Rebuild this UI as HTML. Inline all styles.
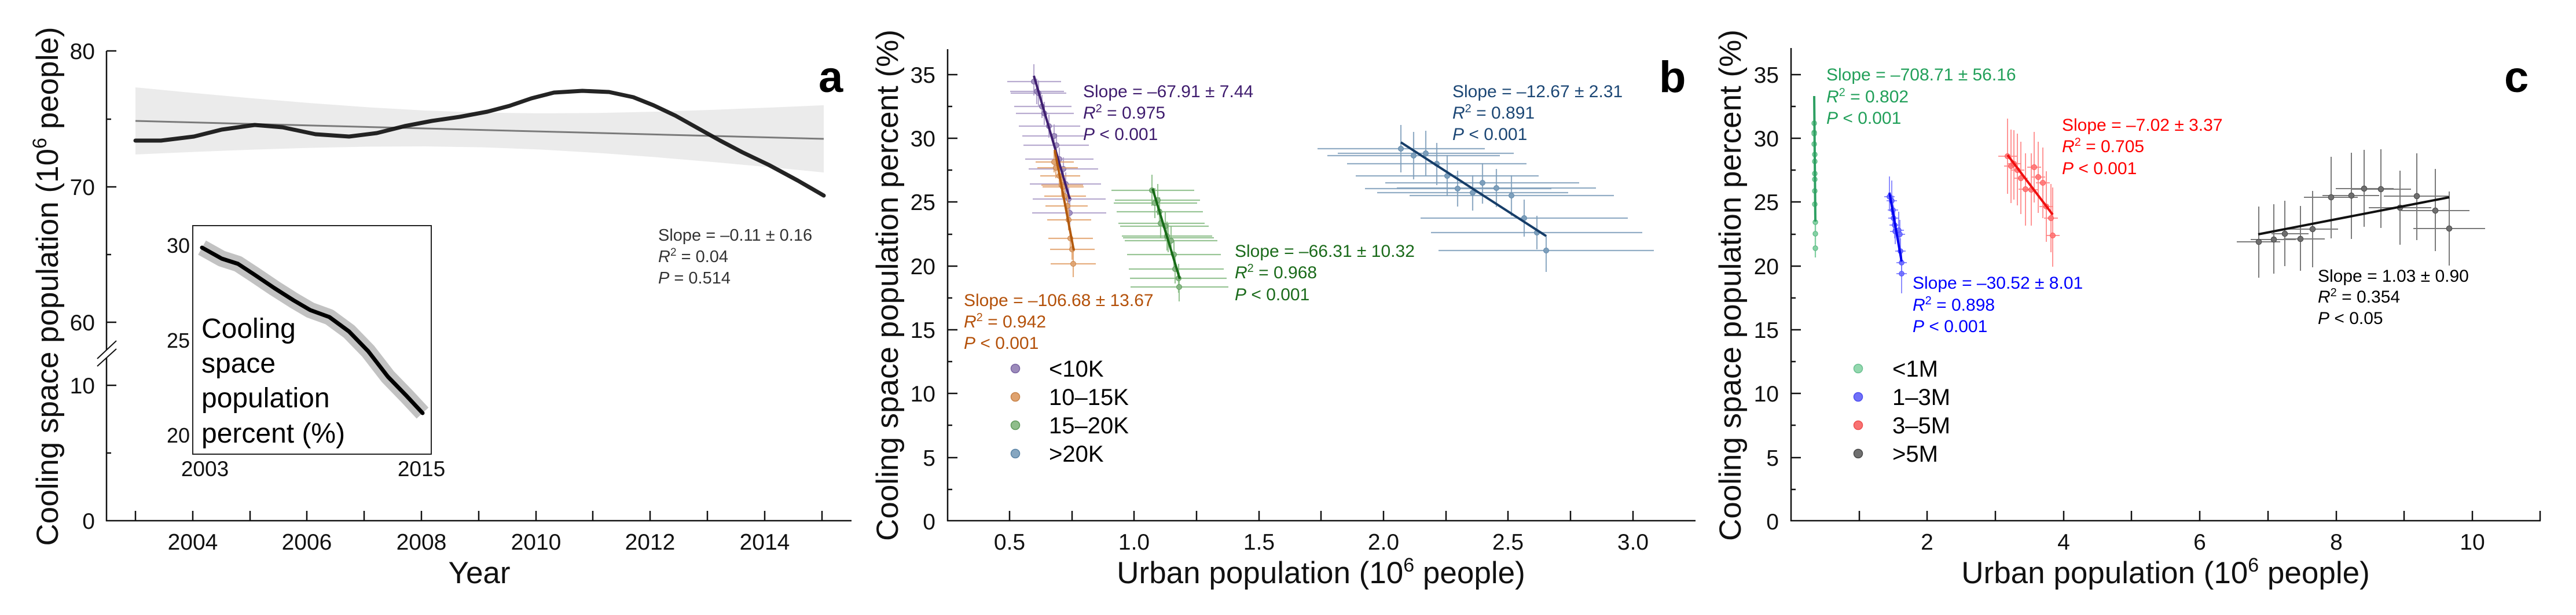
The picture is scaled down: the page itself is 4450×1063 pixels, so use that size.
<!DOCTYPE html>
<html><head><meta charset="utf-8"><style>
html,body{margin:0;padding:0;background:#fff;overflow:hidden;}
svg{display:block;}
text{font-family:"Liberation Sans",Arial,sans-serif;}
</style></head><body>
<svg width="4450" height="1063" viewBox="0 0 4450 1063" xmlns="http://www.w3.org/2000/svg">
<rect width="4450" height="1063" fill="#fff"/>

<!-- ================= PANEL A ================= -->
<!-- CI band -->
<polygon fill="#ebebeb" points="234,151 334,160.6 434,169.7 534,178 634,185.3 734,191 834,194.6 934,195.9 1034,195.2 1134,193 1234,189.7 1334,185.8 1423,181.9 1423,298.1 1334,289.4 1234,280.3 1134,271.8 1034,264.4 934,258.5 834,254.6 734,253 634,253.5 534,255.6 434,258.7 334,262.6 234,267"/>
<line x1="234" y1="209" x2="1423" y2="240" stroke="#7a7a7a" stroke-width="3"/>
<polyline fill="none" stroke="#111" stroke-opacity="0.92" stroke-width="7" stroke-linejoin="round" stroke-linecap="round" points="234,243 278,243 335,236 383,224 440,216 488,220 545,232 603,236 651,230 699,218 746,209 794,202 842,193 880,183 918,170 957,160 1006,157 1052,159 1094,168 1129,182 1167,200 1217,228 1244,243 1282,263 1328,285 1378,312 1423,338"/>

<!-- axes -->
<g stroke="#111" stroke-width="2.5" fill="none">
<line x1="184" y1="88" x2="184" y2="605"/>
<line x1="184" y1="618" x2="184" y2="901"/>
<line x1="183" y1="900" x2="1471" y2="900"/>
<line x1="168" y1="620" x2="201" y2="589" stroke-width="2"/>
<line x1="168" y1="633" x2="201" y2="603" stroke-width="2"/>
<!-- y ticks -->
<line x1="184" y1="88" x2="201" y2="88"/>
<line x1="184" y1="206" x2="192" y2="206"/>
<line x1="184" y1="323" x2="201" y2="323"/>
<line x1="184" y1="440" x2="192" y2="440"/>
<line x1="184" y1="557" x2="201" y2="557"/>
<line x1="184" y1="666" x2="201" y2="666"/>
<line x1="184" y1="783" x2="192" y2="783"/>
<!-- x ticks -->
<line x1="234" y1="883" x2="234" y2="900"/>
<line x1="333" y1="883" x2="333" y2="900"/>
<line x1="432" y1="883" x2="432" y2="900"/>
<line x1="530" y1="883" x2="530" y2="900"/>
<line x1="629" y1="883" x2="629" y2="900"/>
<line x1="728" y1="883" x2="728" y2="900"/>
<line x1="827" y1="883" x2="827" y2="900"/>
<line x1="926" y1="883" x2="926" y2="900"/>
<line x1="1024" y1="883" x2="1024" y2="900"/>
<line x1="1123" y1="883" x2="1123" y2="900"/>
<line x1="1222" y1="883" x2="1222" y2="900"/>
<line x1="1321" y1="883" x2="1321" y2="900"/>
<line x1="1420" y1="883" x2="1420" y2="900"/>
</g>
<g font-size="39" fill="#111" text-anchor="end">
<text x="164" y="102">80</text>
<text x="164" y="337">70</text>
<text x="164" y="571">60</text>
<text x="164" y="680">10</text>
<text x="164" y="914">0</text>
</g>
<g font-size="39" fill="#111" text-anchor="middle">
<text x="333" y="950">2004</text>
<text x="530" y="950">2006</text>
<text x="728" y="950">2008</text>
<text x="926" y="950">2010</text>
<text x="1123" y="950">2012</text>
<text x="1321" y="950">2014</text>
</g>
<text x="828" y="1008" font-size="53" text-anchor="middle" fill="#111">Year</text>
<text transform="translate(100,495) rotate(-90)" font-size="53" text-anchor="middle" fill="#111">Cooling space population (10<tspan dy="-20" font-size="34">6</tspan><tspan dy="20"> people)</tspan></text>
<text x="1414" y="159" font-size="76" font-weight="bold" fill="#000">a</text>
<g font-size="29" fill="#333">
<text x="1137" y="416">Slope = –0.11 ± 0.16</text>
<text x="1137" y="453"><tspan font-style="italic">R</tspan><tspan dy="-11" font-size="19">2</tspan><tspan dy="11"> = 0.04</tspan></text>
<text x="1137" y="490"><tspan font-style="italic">P</tspan> = 0.514</text>
</g>

<!-- inset -->
<rect x="333" y="390" width="412" height="395" fill="#fff" stroke="#222" stroke-width="2"/>
<polyline fill="none" stroke="#c2c2c2" stroke-width="28" stroke-linejoin="round" stroke-linecap="butt" points="349,428 383,447 411,456 440,475 474,498 507,519 536,536 569,548 603,573 636,607 670,651 703,685 730,714"/>
<polyline fill="none" stroke="#000" stroke-width="7" stroke-linejoin="round" stroke-linecap="round" points="349,428 383,447 411,456 440,475 474,498 507,519 536,536 569,548 603,573 636,607 670,651 703,685 730,714"/>
<g font-size="36" fill="#111" text-anchor="end">
<text x="328" y="437">30</text>
<text x="328" y="601">25</text>
<text x="328" y="765">20</text>
</g>
<g font-size="37" fill="#111" text-anchor="middle">
<text x="354" y="823">2003</text>
<text x="728" y="823">2015</text>
</g>
<g font-size="48" fill="#000">
<text x="348" y="584">Cooling</text>
<text x="348" y="644">space</text>
<text x="348" y="704">population</text>
<text x="348" y="765">percent (%)</text>
</g>

<!-- ================= PANEL B ================= -->
<g stroke="#111" stroke-width="2.5" fill="none">
<line x1="1637" y1="85" x2="1637" y2="901"/>
<line x1="1636" y1="900" x2="2929" y2="900"/>
<!-- y ticks -->
<line x1="1637" y1="129" x2="1654" y2="129"/>
<line x1="1637" y1="184" x2="1645" y2="184"/>
<line x1="1637" y1="239" x2="1654" y2="239"/>
<line x1="1637" y1="294" x2="1645" y2="294"/>
<line x1="1637" y1="349" x2="1654" y2="349"/>
<line x1="1637" y1="405" x2="1645" y2="405"/>
<line x1="1637" y1="460" x2="1654" y2="460"/>
<line x1="1637" y1="515" x2="1645" y2="515"/>
<line x1="1637" y1="570" x2="1654" y2="570"/>
<line x1="1637" y1="625" x2="1645" y2="625"/>
<line x1="1637" y1="680" x2="1654" y2="680"/>
<line x1="1637" y1="735" x2="1645" y2="735"/>
<line x1="1637" y1="791" x2="1654" y2="791"/>
<line x1="1637" y1="846" x2="1645" y2="846"/>
<!-- x ticks -->
<line x1="1744" y1="883" x2="1744" y2="900"/>
<line x1="1852" y1="883" x2="1852" y2="900"/>
<line x1="1959" y1="883" x2="1959" y2="900"/>
<line x1="2067" y1="883" x2="2067" y2="900"/>
<line x1="2175" y1="883" x2="2175" y2="900"/>
<line x1="2282" y1="883" x2="2282" y2="900"/>
<line x1="2390" y1="883" x2="2390" y2="900"/>
<line x1="2498" y1="883" x2="2498" y2="900"/>
<line x1="2605" y1="883" x2="2605" y2="900"/>
<line x1="2713" y1="883" x2="2713" y2="900"/>
<line x1="2821" y1="883" x2="2821" y2="900"/>
</g>
<g font-size="39" fill="#111" text-anchor="end">
<text x="1616" y="143">35</text>
<text x="1616" y="253">30</text>
<text x="1616" y="363">25</text>
<text x="1616" y="474">20</text>
<text x="1616" y="584">15</text>
<text x="1616" y="694">10</text>
<text x="1616" y="805">5</text>
<text x="1616" y="915">0</text>
</g>
<g font-size="39" fill="#111" text-anchor="middle">
<text x="1744" y="950">0.5</text>
<text x="1959" y="950">1.0</text>
<text x="2175" y="950">1.5</text>
<text x="2390" y="950">2.0</text>
<text x="2605" y="950">2.5</text>
<text x="2821" y="950">3.0</text>
</g>
<text x="2282" y="1008" font-size="53" text-anchor="middle" fill="#111">Urban population (10<tspan dy="-20" font-size="34">6</tspan><tspan dy="20"> people)</tspan></text>
<text transform="translate(1551,493) rotate(-90)" font-size="53" text-anchor="middle" fill="#111">Cooling space population percent (%)</text>
<text x="2866" y="159" font-size="76" font-weight="bold" fill="#000">b</text>

<!-- blue b (>20K) -->
<g stroke="#7f9fbb" stroke-width="2.2" stroke-opacity="0.85">
<line x1="2276" y1="257" x2="2565" y2="257"/><line x1="2420" y1="216" x2="2420" y2="298"/>
<line x1="2293" y1="269" x2="2591" y2="269"/><line x1="2442" y1="228" x2="2442" y2="310"/>
<line x1="2311" y1="265" x2="2615" y2="265"/><line x1="2463" y1="226" x2="2463" y2="304"/>
<line x1="2327" y1="283" x2="2637" y2="283"/><line x1="2482" y1="247" x2="2482" y2="320"/>
<line x1="2342" y1="304" x2="2658" y2="304"/><line x1="2500" y1="268" x2="2500" y2="339"/>
<line x1="2358" y1="326" x2="2680" y2="326"/><line x1="2518" y1="295" x2="2518" y2="357"/>
<line x1="2379" y1="333" x2="2709" y2="333"/><line x1="2544" y1="303" x2="2544" y2="364"/>
<line x1="2393" y1="316" x2="2728" y2="316"/><line x1="2561" y1="282" x2="2561" y2="352"/>
<line x1="2413" y1="325" x2="2757" y2="325"/><line x1="2585" y1="292" x2="2585" y2="358"/>
<line x1="2435" y1="338" x2="2788" y2="338"/><line x1="2611" y1="303" x2="2611" y2="373"/>
<line x1="2454" y1="377" x2="2812" y2="377"/><line x1="2633" y1="345" x2="2633" y2="409"/>
<line x1="2472" y1="402" x2="2837" y2="402"/><line x1="2655" y1="373" x2="2655" y2="431"/>
<line x1="2485" y1="433" x2="2857" y2="433"/><line x1="2671" y1="407" x2="2671" y2="470"/>
</g>
<g fill="#7d9fbc" stroke="#6189ab" stroke-width="1">
<circle cx="2420" cy="257" r="4.5"/><circle cx="2442" cy="269" r="4.5"/><circle cx="2463" cy="265" r="4.5"/>
<circle cx="2482" cy="283" r="4.5"/><circle cx="2500" cy="304" r="4.5"/><circle cx="2518" cy="326" r="4.5"/>
<circle cx="2544" cy="333" r="4.5"/><circle cx="2561" cy="316" r="4.5"/><circle cx="2585" cy="325" r="4.5"/>
<circle cx="2611" cy="338" r="4.5"/><circle cx="2633" cy="377" r="4.5"/><circle cx="2655" cy="402" r="4.5"/>
<circle cx="2671" cy="433" r="4.5"/>
</g>
<line x1="2420" y1="246" x2="2671" y2="408" stroke="#163d68" stroke-width="4"/>

<!-- green b (15-20K) -->
<g stroke="#86bb83" stroke-width="2.2" stroke-opacity="0.85">
<line x1="1920" y1="329" x2="2063" y2="329"/><line x1="1990" y1="302" x2="1990" y2="356"/>
<line x1="1926" y1="346" x2="2073" y2="346"/><line x1="2000" y1="318" x2="2000" y2="372"/>
<line x1="1924" y1="351" x2="2068" y2="351"/><line x1="1995" y1="325" x2="1995" y2="377"/>
<line x1="1929" y1="366" x2="2078" y2="366"/><line x1="2003" y1="341" x2="2003" y2="391"/>
<line x1="1932" y1="386" x2="2081" y2="386"/><line x1="2005" y1="361" x2="2005" y2="411"/>
<line x1="1935" y1="391" x2="2088" y2="391"/><line x1="2013" y1="366" x2="2013" y2="416"/>
<line x1="1938" y1="408" x2="2094" y2="408"/><line x1="2016" y1="383" x2="2016" y2="433"/>
<line x1="1940" y1="411" x2="2097" y2="411"/><line x1="2018" y1="386" x2="2018" y2="436"/>
<line x1="1943" y1="416" x2="2103" y2="416"/><line x1="2023" y1="391" x2="2023" y2="441"/>
<line x1="1947" y1="440" x2="2109" y2="440"/><line x1="2028" y1="415" x2="2028" y2="465"/>
<line x1="1950" y1="465" x2="2114" y2="465"/><line x1="2030" y1="440" x2="2030" y2="490"/>
<line x1="1952" y1="481" x2="2119" y2="481"/><line x1="2036" y1="456" x2="2036" y2="506"/>
<line x1="1953" y1="496" x2="2122" y2="496"/><line x1="2037" y1="471" x2="2037" y2="521"/>
</g>
<g fill="#82b47f" stroke="#5f9a5c" stroke-width="1" fill-opacity="0.9">
<circle cx="1990" cy="329" r="4.5"/><circle cx="2000" cy="346" r="4.5"/><circle cx="1995" cy="351" r="4.5"/>
<circle cx="2003" cy="366" r="4.5"/><circle cx="2005" cy="386" r="4.5"/><circle cx="2013" cy="391" r="4.5"/>
<circle cx="2016" cy="408" r="4.5"/><circle cx="2023" cy="416" r="4.5"/><circle cx="2028" cy="440" r="4.5"/>
<circle cx="2030" cy="465" r="4.5"/><circle cx="2036" cy="481" r="4.5"/><circle cx="2037" cy="496" r="4.5"/>
</g>
<line x1="1991" y1="326" x2="2038" y2="482" stroke="#176b17" stroke-width="4"/>

<!-- purple b (<10K) -->
<g stroke="#ac9cc8" stroke-width="2.2" stroke-opacity="0.85">
<line x1="1740" y1="141" x2="1833" y2="141"/><line x1="1786" y1="111" x2="1786" y2="165"/>
<line x1="1745" y1="158" x2="1838" y2="158"/><line x1="1791" y1="136" x2="1791" y2="180"/>
<line x1="1746" y1="161" x2="1842" y2="161"/><line x1="1794" y1="139" x2="1794" y2="183"/>
<line x1="1752" y1="184" x2="1851" y2="184"/><line x1="1800" y1="164" x2="1800" y2="204"/>
<line x1="1755" y1="196" x2="1855" y2="196"/><line x1="1804" y1="176" x2="1804" y2="216"/>
<line x1="1760" y1="218" x2="1866" y2="218"/><line x1="1812" y1="198" x2="1812" y2="238"/>
<line x1="1766" y1="235" x2="1873" y2="235"/><line x1="1821" y1="215" x2="1821" y2="255"/>
<line x1="1768" y1="251" x2="1881" y2="251"/><line x1="1825" y1="231" x2="1825" y2="271"/>
<line x1="1771" y1="275" x2="1889" y2="275"/><line x1="1830" y1="255" x2="1830" y2="295"/>
<line x1="1777" y1="292" x2="1897" y2="292"/><line x1="1837" y1="272" x2="1837" y2="312"/>
<line x1="1779" y1="318" x2="1902" y2="318"/><line x1="1841" y1="298" x2="1841" y2="338"/>
<line x1="1784" y1="344" x2="1910" y2="344"/><line x1="1846" y1="324" x2="1846" y2="364"/>
<line x1="1783" y1="368" x2="1911" y2="368"/><line x1="1848" y1="348" x2="1848" y2="388"/>
</g>
<g fill="#9c8bbb" stroke="#7a65a3" stroke-width="1" fill-opacity="0.9">
<circle cx="1786" cy="141" r="4.5"/><circle cx="1791" cy="158" r="4.5"/><circle cx="1794" cy="161" r="4.5"/>
<circle cx="1800" cy="184" r="4.5"/><circle cx="1804" cy="196" r="4.5"/><circle cx="1812" cy="218" r="4.5"/>
<circle cx="1821" cy="235" r="4.5"/><circle cx="1825" cy="251" r="4.5"/><circle cx="1830" cy="275" r="4.5"/>
<circle cx="1837" cy="292" r="4.5"/><circle cx="1841" cy="318" r="4.5"/><circle cx="1846" cy="344" r="4.5"/>
<circle cx="1848" cy="368" r="4.5"/>
</g>

<!-- orange b (10-15K) -->
<g stroke="#e2a068" stroke-width="2.2" stroke-opacity="0.85">
<line x1="1789" y1="280" x2="1855" y2="280"/><line x1="1821" y1="262" x2="1821" y2="298"/>
<line x1="1792" y1="290" x2="1862" y2="290"/><line x1="1824" y1="272" x2="1824" y2="308"/>
<line x1="1797" y1="304" x2="1866" y2="304"/><line x1="1830" y1="286" x2="1830" y2="322"/>
<line x1="1799" y1="320" x2="1871" y2="320"/><line x1="1834" y1="302" x2="1834" y2="338"/>
<line x1="1801" y1="323" x2="1872" y2="323"/><line x1="1836" y1="305" x2="1836" y2="341"/>
<line x1="1804" y1="339" x2="1876" y2="339"/><line x1="1839" y1="321" x2="1839" y2="357"/>
<line x1="1806" y1="356" x2="1879" y2="356"/><line x1="1844" y1="338" x2="1844" y2="374"/>
<line x1="1809" y1="380" x2="1885" y2="380"/><line x1="1846" y1="362" x2="1846" y2="398"/>
<line x1="1811" y1="412" x2="1888" y2="412"/><line x1="1849" y1="394" x2="1849" y2="430"/>
<line x1="1814" y1="431" x2="1891" y2="431"/><line x1="1852" y1="413" x2="1852" y2="449"/>
<line x1="1815" y1="456" x2="1893" y2="456"/><line x1="1854" y1="434" x2="1854" y2="479"/>
</g>
<g fill="#dfa26e" stroke="#c7834a" stroke-width="1" fill-opacity="0.9">
<circle cx="1821" cy="280" r="4.5"/><circle cx="1824" cy="290" r="4.5"/><circle cx="1830" cy="304" r="4.5"/>
<circle cx="1834" cy="320" r="4.5"/><circle cx="1836" cy="323" r="4.5"/><circle cx="1839" cy="339" r="4.5"/>
<circle cx="1844" cy="356" r="4.5"/><circle cx="1846" cy="380" r="4.5"/><circle cx="1849" cy="412" r="4.5"/>
<circle cx="1852" cy="431" r="4.5"/><circle cx="1854" cy="456" r="4.5"/>
</g>
<line x1="1786" y1="131" x2="1848" y2="344" stroke="#3f1f70" stroke-width="4"/>
<line x1="1822" y1="259" x2="1855" y2="433" stroke="#b35a0e" stroke-width="4"/>

<!-- annotations b -->
<g font-size="30" fill="#3f1c6e">
<text x="1871" y="168">Slope = –67.91 ± 7.44</text>
<text x="1871" y="205"><tspan font-style="italic">R</tspan><tspan dy="-11" font-size="20">2</tspan><tspan dy="11"> = 0.975</tspan></text>
<text x="1871" y="242"><tspan font-style="italic">P</tspan> &lt; 0.001</text>
</g>
<g font-size="30" fill="#b4510a">
<text x="1665" y="529">Slope = –106.68 ± 13.67</text>
<text x="1665" y="566"><tspan font-style="italic">R</tspan><tspan dy="-11" font-size="20">2</tspan><tspan dy="11"> = 0.942</tspan></text>
<text x="1665" y="603"><tspan font-style="italic">P</tspan> &lt; 0.001</text>
</g>
<g font-size="30" fill="#1b6b1b">
<text x="2133" y="444">Slope = –66.31 ± 10.32</text>
<text x="2133" y="481"><tspan font-style="italic">R</tspan><tspan dy="-11" font-size="20">2</tspan><tspan dy="11"> = 0.968</tspan></text>
<text x="2133" y="519"><tspan font-style="italic">P</tspan> &lt; 0.001</text>
</g>
<g font-size="30" fill="#1c4775">
<text x="2509" y="168">Slope = –12.67 ± 2.31</text>
<text x="2509" y="205"><tspan font-style="italic">R</tspan><tspan dy="-11" font-size="20">2</tspan><tspan dy="11"> = 0.891</tspan></text>
<text x="2509" y="242"><tspan font-style="italic">P</tspan> &lt; 0.001</text>
</g>
<!-- legend b -->
<circle cx="1754" cy="637" r="7.5" fill="#9c8bbb" stroke="#7a65a3" stroke-width="1.5"/>
<circle cx="1754" cy="686" r="7.5" fill="#dfa26e" stroke="#c7834a" stroke-width="1.5"/>
<circle cx="1754" cy="735" r="7.5" fill="#8fbd8b" stroke="#5f9a5c" stroke-width="1.5"/>
<circle cx="1754" cy="784" r="7.5" fill="#86a6c0" stroke="#5a84a6" stroke-width="1.5"/>
<g font-size="40" fill="#000">
<text x="1812" y="651">&lt;10K</text>
<text x="1812" y="700">10–15K</text>
<text x="1812" y="749">15–20K</text>
<text x="1812" y="798">&gt;20K</text>
</g>

<!-- ================= PANEL C ================= -->
<g stroke="#111" stroke-width="2.5" fill="none">
<line x1="3094" y1="83" x2="3094" y2="901"/>
<line x1="3093" y1="900" x2="4389" y2="900"/>
<line x1="3094" y1="129" x2="3111" y2="129"/>
<line x1="3094" y1="184" x2="3102" y2="184"/>
<line x1="3094" y1="239" x2="3111" y2="239"/>
<line x1="3094" y1="294" x2="3102" y2="294"/>
<line x1="3094" y1="349" x2="3111" y2="349"/>
<line x1="3094" y1="405" x2="3102" y2="405"/>
<line x1="3094" y1="460" x2="3111" y2="460"/>
<line x1="3094" y1="515" x2="3102" y2="515"/>
<line x1="3094" y1="570" x2="3111" y2="570"/>
<line x1="3094" y1="625" x2="3102" y2="625"/>
<line x1="3094" y1="680" x2="3111" y2="680"/>
<line x1="3094" y1="735" x2="3102" y2="735"/>
<line x1="3094" y1="791" x2="3111" y2="791"/>
<line x1="3094" y1="846" x2="3102" y2="846"/>
<line x1="3212" y1="883" x2="3212" y2="900"/>
<line x1="3329" y1="883" x2="3329" y2="900"/>
<line x1="3447" y1="883" x2="3447" y2="900"/>
<line x1="3565" y1="883" x2="3565" y2="900"/>
<line x1="3682" y1="883" x2="3682" y2="900"/>
<line x1="3800" y1="883" x2="3800" y2="900"/>
<line x1="3918" y1="883" x2="3918" y2="900"/>
<line x1="4036" y1="883" x2="4036" y2="900"/>
<line x1="4153" y1="883" x2="4153" y2="900"/>
<line x1="4271" y1="883" x2="4271" y2="900"/>
<line x1="4388" y1="883" x2="4388" y2="900"/>
</g>
<g font-size="39" fill="#111" text-anchor="end">
<text x="3073" y="143">35</text>
<text x="3073" y="253">30</text>
<text x="3073" y="363">25</text>
<text x="3073" y="474">20</text>
<text x="3073" y="584">15</text>
<text x="3073" y="694">10</text>
<text x="3073" y="805">5</text>
<text x="3073" y="915">0</text>
</g>
<g font-size="39" fill="#111" text-anchor="middle">
<text x="3329" y="950">2</text>
<text x="3565" y="950">4</text>
<text x="3800" y="950">6</text>
<text x="4036" y="950">8</text>
<text x="4271" y="950">10</text>
</g>
<text x="3741" y="1008" font-size="53" text-anchor="middle" fill="#111">Urban population (10<tspan dy="-20" font-size="34">6</tspan><tspan dy="20"> people)</tspan></text>
<text transform="translate(3007,493) rotate(-90)" font-size="53" text-anchor="middle" fill="#111">Cooling space population percent (%)</text>
<text x="4326" y="159" font-size="76" font-weight="bold" fill="#000">c</text>

<!-- green c (<1M) -->
<g stroke="#7fcf9f" stroke-width="2.2">
<line x1="3134" y1="195" x2="3134" y2="231"/>
<line x1="3134" y1="212" x2="3134" y2="248"/>
<line x1="3134" y1="231" x2="3134" y2="267"/>
<line x1="3135" y1="249" x2="3135" y2="285"/>
<line x1="3135" y1="261" x2="3135" y2="297"/>
<line x1="3135" y1="282" x2="3135" y2="318"/>
<line x1="3135" y1="292" x2="3135" y2="328"/>
<line x1="3135" y1="312" x2="3135" y2="348"/>
<line x1="3135" y1="335" x2="3135" y2="371"/>
<line x1="3136" y1="366" x2="3136" y2="402"/>
<line x1="3136" y1="386" x2="3136" y2="422"/>
<line x1="3136" y1="411" x2="3136" y2="445"/>
</g>
<g fill="#84d2a4" stroke="#55b37e" stroke-width="1">
<circle cx="3134" cy="213" r="4.2"/><circle cx="3134" cy="229" r="4.2"/><circle cx="3134" cy="231" r="4.2"/>
<circle cx="3134" cy="249" r="4.2"/><circle cx="3135" cy="267" r="4.2"/><circle cx="3135" cy="279" r="4.2"/>
<circle cx="3135" cy="300" r="4.2"/><circle cx="3135" cy="310" r="4.2"/><circle cx="3135" cy="330" r="4.2"/>
<circle cx="3135" cy="353" r="4.2"/><circle cx="3136" cy="384" r="4.2"/><circle cx="3136" cy="404" r="4.2"/>
<circle cx="3136" cy="429" r="4.2"/>
</g>
<line x1="3134" y1="166" x2="3136" y2="383" stroke="#2ea062" stroke-width="4"/>

<!-- blue c (1-3M) -->
<g stroke="#7a7aff" stroke-width="2" stroke-opacity="0.85">
<line x1="3255" y1="340" x2="3273" y2="340"/><line x1="3264" y1="305" x2="3264" y2="365"/>
<line x1="3259" y1="347" x2="3277" y2="347"/><line x1="3268" y1="312" x2="3268" y2="372"/>
<line x1="3261" y1="363" x2="3279" y2="363"/><line x1="3270" y1="338" x2="3270" y2="388"/>
<line x1="3262" y1="377" x2="3280" y2="377"/><line x1="3271" y1="355" x2="3271" y2="400"/>
<line x1="3264" y1="389" x2="3282" y2="389"/><line x1="3273" y1="366" x2="3273" y2="412"/>
<line x1="3265" y1="400" x2="3283" y2="400"/><line x1="3274" y1="378" x2="3274" y2="422"/>
<line x1="3271" y1="398" x2="3289" y2="398"/><line x1="3280" y1="366" x2="3280" y2="430"/>
<line x1="3273" y1="405" x2="3291" y2="405"/><line x1="3282" y1="380" x2="3282" y2="430"/>
<line x1="3274" y1="434" x2="3292" y2="434"/><line x1="3283" y1="412" x2="3283" y2="456"/>
<line x1="3276" y1="454" x2="3294" y2="454"/><line x1="3285" y1="432" x2="3285" y2="476"/>
<line x1="3276" y1="473" x2="3294" y2="473"/><line x1="3285" y1="451" x2="3285" y2="507"/>
</g>
<g fill="#6a6aff" stroke="#4a4aff" stroke-width="1" fill-opacity="0.85">
<circle cx="3264" cy="340" r="4.3"/><circle cx="3268" cy="347" r="4.3"/><circle cx="3270" cy="363" r="4.3"/>
<circle cx="3271" cy="377" r="4.3"/><circle cx="3273" cy="389" r="4.3"/><circle cx="3274" cy="400" r="4.3"/>
<circle cx="3280" cy="398" r="4.3"/><circle cx="3282" cy="405" r="4.3"/><circle cx="3283" cy="434" r="4.3"/>
<circle cx="3285" cy="454" r="4.3"/><circle cx="3285" cy="473" r="4.3"/>
</g>
<line x1="3264" y1="333" x2="3285" y2="452" stroke="#0000f0" stroke-width="4"/>

<!-- red c (3-5M) -->
<g stroke="#ff8a8a" stroke-width="2" stroke-opacity="0.9">
<line x1="3452" y1="270" x2="3484" y2="270"/><line x1="3468" y1="205" x2="3468" y2="335"/>
<line x1="3462" y1="287" x2="3486" y2="287"/><line x1="3474" y1="224" x2="3474" y2="351"/>
<line x1="3467" y1="283" x2="3491" y2="283"/><line x1="3479" y1="225" x2="3479" y2="345"/>
<line x1="3473" y1="294" x2="3497" y2="294"/><line x1="3485" y1="231" x2="3485" y2="355"/>
<line x1="3479" y1="308" x2="3503" y2="308"/><line x1="3491" y1="245" x2="3491" y2="370"/>
<line x1="3487" y1="327" x2="3511" y2="327"/><line x1="3499" y1="265" x2="3499" y2="390"/>
<line x1="3497" y1="328" x2="3521" y2="328"/><line x1="3509" y1="265" x2="3509" y2="390"/>
<line x1="3502" y1="289" x2="3526" y2="289"/><line x1="3514" y1="228" x2="3514" y2="350"/>
<line x1="3509" y1="306" x2="3533" y2="306"/><line x1="3521" y1="245" x2="3521" y2="368"/>
<line x1="3517" y1="316" x2="3541" y2="316"/><line x1="3529" y1="255" x2="3529" y2="377"/>
<line x1="3523" y1="357" x2="3547" y2="357"/><line x1="3535" y1="296" x2="3535" y2="418"/>
<line x1="3531" y1="377" x2="3555" y2="377"/><line x1="3543" y1="318" x2="3543" y2="436"/>
<line x1="3534" y1="407" x2="3558" y2="407"/><line x1="3546" y1="324" x2="3546" y2="461"/>
</g>
<g fill="#ff7272" stroke="#ff5555" stroke-width="1" fill-opacity="0.85">
<circle cx="3468" cy="270" r="4.5"/><circle cx="3474" cy="287" r="4.5"/><circle cx="3479" cy="283" r="4.5"/>
<circle cx="3485" cy="294" r="4.5"/><circle cx="3491" cy="308" r="4.5"/><circle cx="3499" cy="327" r="4.5"/>
<circle cx="3509" cy="328" r="4.5"/><circle cx="3514" cy="289" r="4.5"/><circle cx="3521" cy="306" r="4.5"/>
<circle cx="3529" cy="316" r="4.5"/><circle cx="3535" cy="357" r="4.5"/><circle cx="3543" cy="377" r="4.5"/>
<circle cx="3546" cy="407" r="4.5"/>
</g>
<line x1="3468" y1="268" x2="3546" y2="371" stroke="#f01010" stroke-width="4"/>

<!-- black c (>5M) -->
<g stroke="#7a7a7a" stroke-width="2">
<line x1="3864" y1="418" x2="3939" y2="418"/><line x1="3902" y1="357" x2="3902" y2="480"/>
<line x1="3888" y1="414" x2="3966" y2="414"/><line x1="3928" y1="353" x2="3928" y2="473"/>
<line x1="3924" y1="404" x2="3988" y2="404"/><line x1="3947" y1="347" x2="3947" y2="460"/>
<line x1="3945" y1="413" x2="4016" y2="413"/><line x1="3974" y1="356" x2="3974" y2="468"/>
<line x1="3953" y1="396" x2="4039" y2="396"/><line x1="3995" y1="330" x2="3995" y2="462"/>
<line x1="3980" y1="341" x2="4073" y2="341"/><line x1="4027" y1="271" x2="4027" y2="412"/>
<line x1="4012" y1="338" x2="4110" y2="338"/><line x1="4062" y1="264" x2="4062" y2="413"/>
<line x1="4035" y1="326" x2="4135" y2="326"/><line x1="4084" y1="259" x2="4084" y2="392"/>
<line x1="4062" y1="327" x2="4165" y2="327"/><line x1="4113" y1="258" x2="4113" y2="394"/>
<line x1="4092" y1="359" x2="4200" y2="359"/><line x1="4146" y1="295" x2="4146" y2="423"/>
<line x1="4118" y1="339" x2="4230" y2="339"/><line x1="4175" y1="265" x2="4175" y2="415"/>
<line x1="4148" y1="364" x2="4266" y2="364"/><line x1="4207" y1="292" x2="4207" y2="434"/>
<line x1="4169" y1="395" x2="4293" y2="395"/><line x1="4231" y1="331" x2="4231" y2="459"/>
</g>
<g fill="#6e6e6e" stroke="#4a4a4a" stroke-width="1">
<circle cx="3902" cy="418" r="4.8"/><circle cx="3928" cy="414" r="4.8"/><circle cx="3947" cy="404" r="4.8"/>
<circle cx="3974" cy="413" r="4.8"/><circle cx="3995" cy="396" r="4.8"/><circle cx="4027" cy="341" r="4.8"/>
<circle cx="4062" cy="338" r="4.8"/><circle cx="4084" cy="326" r="4.8"/><circle cx="4113" cy="327" r="4.8"/>
<circle cx="4146" cy="359" r="4.8"/><circle cx="4175" cy="339" r="4.8"/><circle cx="4207" cy="364" r="4.8"/>
<circle cx="4231" cy="395" r="4.8"/>
</g>
<line x1="3901" y1="405" x2="4231" y2="341" stroke="#111" stroke-width="4"/>

<!-- annotations c -->
<g font-size="30" fill="#22a05a">
<text x="3155" y="139">Slope = –708.71 ± 56.16</text>
<text x="3155" y="177"><tspan font-style="italic">R</tspan><tspan dy="-11" font-size="20">2</tspan><tspan dy="11"> = 0.802</tspan></text>
<text x="3155" y="214"><tspan font-style="italic">P</tspan> &lt; 0.001</text>
</g>
<g font-size="30" fill="#ff0000">
<text x="3562" y="226">Slope = –7.02 ± 3.37</text>
<text x="3562" y="263"><tspan font-style="italic">R</tspan><tspan dy="-11" font-size="20">2</tspan><tspan dy="11"> = 0.705</tspan></text>
<text x="3562" y="301"><tspan font-style="italic">P</tspan> &lt; 0.001</text>
</g>
<g font-size="30" fill="#0000ff">
<text x="3304" y="499">Slope = –30.52 ± 8.01</text>
<text x="3304" y="537"><tspan font-style="italic">R</tspan><tspan dy="-11" font-size="20">2</tspan><tspan dy="11"> = 0.898</tspan></text>
<text x="3304" y="574"><tspan font-style="italic">P</tspan> &lt; 0.001</text>
</g>
<g font-size="30" fill="#000">
<text x="4004" y="487">Slope = 1.03 ± 0.90</text>
<text x="4004" y="523"><tspan font-style="italic">R</tspan><tspan dy="-11" font-size="20">2</tspan><tspan dy="11"> = 0.354</tspan></text>
<text x="4004" y="560"><tspan font-style="italic">P</tspan> &lt; 0.05</text>
</g>
<!-- legend c -->
<circle cx="3210" cy="637" r="7.5" fill="#93d8ae" stroke="#6cc092" stroke-width="1.5"/>
<circle cx="3210" cy="686" r="7.5" fill="#7070f8" stroke="#4d4df0" stroke-width="1.5"/>
<circle cx="3210" cy="735" r="7.5" fill="#f87272" stroke="#ee5050" stroke-width="1.5"/>
<circle cx="3210" cy="784" r="7.5" fill="#707070" stroke="#4a4a4a" stroke-width="1.5"/>
<g font-size="40" fill="#000">
<text x="3269" y="651">&lt;1M</text>
<text x="3269" y="700">1–3M</text>
<text x="3269" y="749">3–5M</text>
<text x="3269" y="798">&gt;5M</text>
</g>
</svg>
</body></html>
